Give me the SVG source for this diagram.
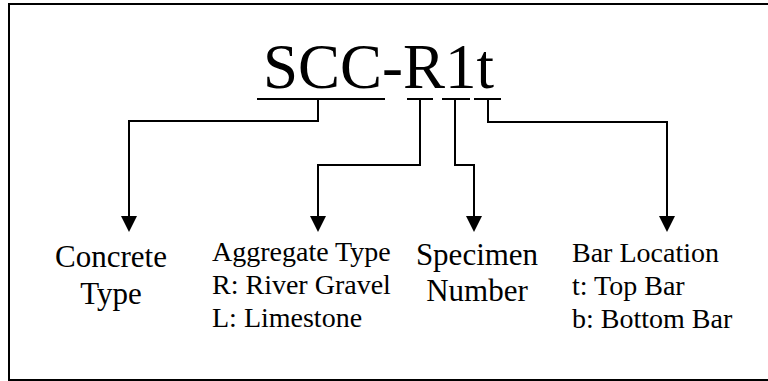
<svg xmlns="http://www.w3.org/2000/svg" width="768" height="381" viewBox="0 0 768 381">
  <style>
    text { font-family: "Liberation Serif", "Times New Roman", Times, "Nimbus Roman", "DejaVu Serif", serif; fill: #000; }
    .frame { fill: none; stroke: #000; stroke-width: 2; }
    .wire { fill: none; stroke: #000; stroke-width: 2; }
    .head { fill: #000; stroke: none; }
    .title { font-size: 63px; }
    .lbl { font-size: 28px; }
    .lbl-big { font-size: 31px; }
  </style>

  <rect class="frame" x="9" y="4" width="770" height="376"/>

  <g id="code">
    <text class="title" x="263" y="88">SCC-R1t</text>
  </g>

  <g id="connectors">
    <!-- SCC -> Concrete Type -->
    <path class="wire" d="M257,99 H385"/>
    <path class="wire" d="M318,99 V121 H129 V218"/>
    <!-- R -> Aggregate Type -->
    <path class="wire" d="M407,99 H433"/>
    <path class="wire" d="M420,99 V165 H318 V218"/>
    <!-- 1 -> Specimen Number -->
    <path class="wire" d="M442,99 H470"/>
    <path class="wire" d="M455,99 V165 H474 V218"/>
    <!-- t -> Bar Location -->
    <path class="wire" d="M474,99 H501"/>
    <path class="wire" d="M488,99 V122 H667 V218"/>
    <!-- arrowheads -->
    <path class="head" d="M121,216 H137 L129,232 Z"/>
    <path class="head" d="M310,216 H326 L318,232 Z"/>
    <path class="head" d="M466,216 H482 L474,232 Z"/>
    <path class="head" d="M659,216 H675 L667,232 Z"/>
  </g>

  <g id="concrete-type">
    <text class="lbl-big" x="111" y="267" text-anchor="middle">Concrete</text>
    <text class="lbl-big" x="111" y="304" text-anchor="middle">Type</text>
  </g>

  <g id="aggregate-type">
    <text class="lbl" x="212" y="261">Aggregate Type</text>
    <text class="lbl" x="212" y="294">R: River Gravel</text>
    <text class="lbl" x="212" y="327">L: Limestone</text>
  </g>

  <g id="specimen-number">
    <text class="lbl-big" x="477" y="265" text-anchor="middle">Specimen</text>
    <text class="lbl-big" x="477" y="301" text-anchor="middle">Number</text>
  </g>

  <g id="bar-location">
    <text class="lbl" x="572" y="262">Bar Location</text>
    <text class="lbl" x="572" y="295">t: Top Bar</text>
    <text class="lbl" x="572" y="328">b: Bottom Bar</text>
  </g>
</svg>
